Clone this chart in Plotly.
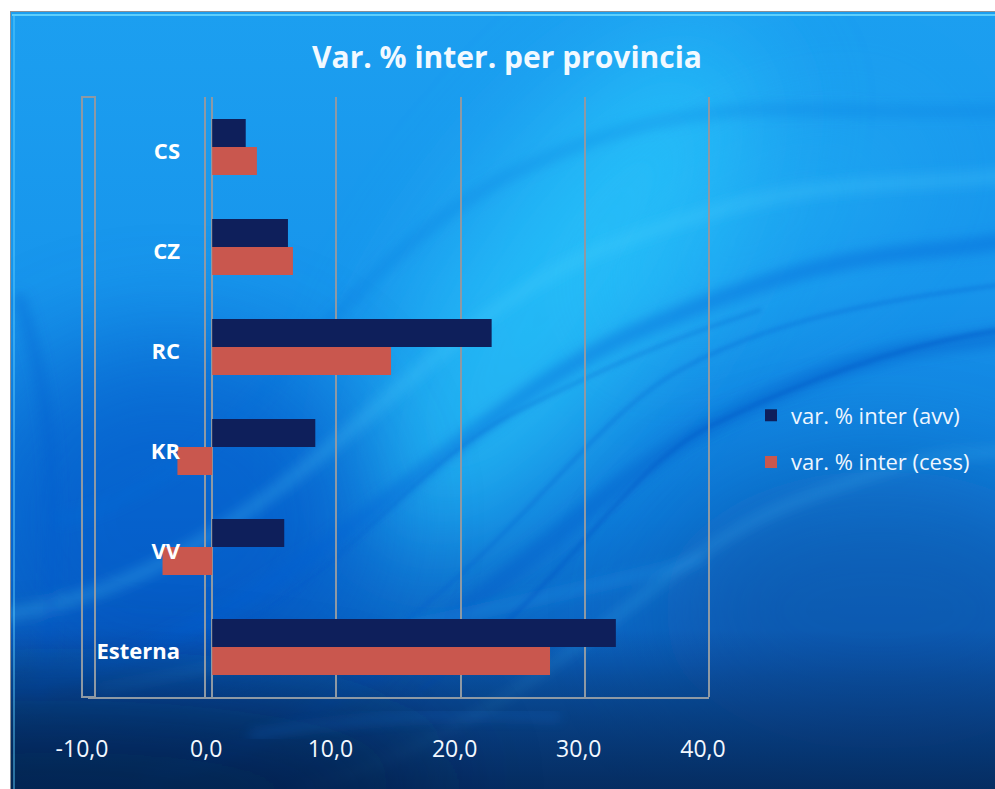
import base64
import plotly.graph_objects as go

# ---- data ----
categories = ["CS", "CZ", "RC", "KR", "VV", "Esterna"]
avv_values = [2.7, 6.1, 22.5, 8.3, 5.8, 32.5]
cess_values = [3.6, 6.5, 14.4, -2.8, -4.0, 27.2]
series_names = ["var. % inter (avv)", "var. % inter (cess)"]
tick_vals = [-10, 0, 10, 20, 30, 40]
tick_text = [f"{v:.1f}".replace(".", ",") for v in tick_vals]
title_text = "Var. % inter. per provincia"

# ---- layout geometry (pixels) ----
W, H = 995, 789
L, R, T, B = 88, 995 - 709, 97, 789 - 697
PW, PH = W - L - R, H - T - B

FONT = "'Open Sans', Lato, sans-serif"
GRID = "#8e99a4"

# ---- background picture (decoration only) ----
svg = f"""<svg xmlns='http://www.w3.org/2000/svg' width='985' height='778' viewBox='10 11 985 778' preserveAspectRatio='none'>
<defs>
<linearGradient id='g' x1='0' y1='0' x2='0' y2='1'>
<stop offset='0' stop-color='#1c9ff0'/>
<stop offset='0.35' stop-color='#1795ec'/>
<stop offset='0.65' stop-color='#0e7ad9'/>
<stop offset='0.84' stop-color='#0b60bd'/>
<stop offset='1' stop-color='#08427f'/>
</linearGradient>
<linearGradient id='gb' x1='0' y1='0' x2='0' y2='1'>
<stop offset='0' stop-color='#06336f' stop-opacity='0'/>
<stop offset='0.3' stop-color='#06336f' stop-opacity='0.35'/>
<stop offset='0.65' stop-color='#06306a' stop-opacity='0.65'/>
<stop offset='1' stop-color='#05295c' stop-opacity='0.85'/>
</linearGradient>
<filter id='b1' x='-80%' y='-80%' width='260%' height='260%'><feGaussianBlur stdDeviation='55'/></filter>
<filter id='b2' x='-20%' y='-20%' width='140%' height='140%'><feGaussianBlur stdDeviation='6'/></filter>
<filter id='b3' x='-20%' y='-20%' width='140%' height='140%'><feGaussianBlur stdDeviation='2'/></filter>
</defs>
<rect x='10' y='11' width='985' height='778' fill='url(#g)'/>
<ellipse cx='560' cy='290' rx='110' ry='300' transform='rotate(35 560 290)' fill='#2fd4ff' opacity='0.6' filter='url(#b1)'/>
<ellipse cx='760' cy='230' rx='80' ry='180' transform='rotate(60 760 230)' fill='#2cc8fb' opacity='0.25' filter='url(#b1)'/>
<ellipse cx='170' cy='520' rx='200' ry='180' fill='#0650c4' opacity='0.55' filter='url(#b1)'/>
<ellipse cx='880' cy='610' rx='220' ry='140' fill='#0a4d9e' opacity='0.5' filter='url(#b1)'/>
<g fill='none' stroke-linecap='round' filter='url(#b2)'>
<path d='M -40 700 C 280 660, 430 420, 640 330 S 900 260, 1010 240' stroke='#0a5fd4' stroke-width='16' opacity='0.4'/>
<path d='M -40 620 C 260 600, 400 330, 600 250 S 880 190, 1010 175' stroke='#52d4ff' stroke-width='14' opacity='0.22'/>
<path d='M 150 780 C 420 700, 560 500, 720 420 S 930 350, 1010 335' stroke='#0a58c8' stroke-width='18' opacity='0.4'/>
<path d='M 60 520 C 250 480, 330 260, 520 170 S 800 120, 1010 110' stroke='#0c6ad8' stroke-width='12' opacity='0.25'/>
<path d='M 300 790 C 550 720, 640 560, 800 500 S 950 460, 1010 450' stroke='#4fc6fa' stroke-width='10' opacity='0.2'/>
<path d='M 20 300 C 60 420, 60 560, 40 700' stroke='#0a5ccc' stroke-width='14' opacity='0.3'/>
<path d='M 100 690 C 300 650, 500 610, 700 560' stroke='#2aa6f5' stroke-width='8' opacity='0.3'/>
</g>
<g fill='none' stroke-linecap='round' filter='url(#b3)'>
<path d='M 420 690 C 560 600, 620 470, 712 425 S 900 345, 1000 330' stroke='#0b55c6' stroke-width='4' opacity='0.5'/>
<path d='M 380 640 C 520 540, 590 420, 680 370 S 880 300, 1000 285' stroke='#0b58cc' stroke-width='3' opacity='0.4'/>
<path d='M 200 640 C 330 600, 400 470, 520 410 S 700 330, 760 310' stroke='#0a5acb' stroke-width='3' opacity='0.35'/>
</g>
<rect x='10' y='630' width='985' height='159' fill='url(#gb)'/>
<ellipse cx='60' cy='790' rx='380' ry='90' fill='#041d45' opacity='0.55' filter='url(#b1)'/>
<path d='M 250 735 C 380 715, 480 712, 560 718' fill='none' stroke='#1b6fd0' stroke-width='6' opacity='0.35' filter='url(#b2)'/>
<line x1='12' y1='15' x2='995' y2='15' stroke='#6fdcff' stroke-width='2' opacity='0.8'/>
<line x1='14' y1='15' x2='14' y2='789' stroke='#5fd0ff' stroke-width='2' opacity='0.45'/>
<line x1='9' y1='11' x2='995' y2='11' stroke='#8c9096' stroke-width='2'/>
<line x1='10' y1='11' x2='10' y2='789' stroke='#8c9096' stroke-width='2'/>
</svg>"""
bg_uri = "data:image/svg+xml;base64," + base64.b64encode(svg.encode("utf-8")).decode("ascii")

fig = go.Figure()
fig.add_trace(go.Bar(
    y=categories, x=avv_values, orientation="h", name=series_names[0],
    marker=dict(color="#0e1f5b", line=dict(width=0)), legendgroup="a",
))
fig.add_trace(go.Bar(
    y=categories, x=cess_values, orientation="h", name=series_names[1],
    marker=dict(color="#c9574e", line=dict(width=0)), legendgroup="b",
))

fig.add_layout_image(dict(
    source=bg_uri, xref="paper", yref="paper",
    x=(10 - L) / PW, y=(H - B - 11) / PH,
    sizex=985 / PW, sizey=778 / PH,
    xanchor="left", yanchor="top", sizing="stretch", layer="below",
))

# 3-D wall edges of the chart frame (decoration)
fig.add_shape(type="rect", xref="x domain", yref="y domain",
              x0=(82 - L) / PW, x1=(95 - L) / PW, y0=0, y1=1,
              line=dict(color=GRID, width=2), fillcolor="rgba(0,0,0,0)", layer="below")
fig.add_shape(type="line", xref="x domain", yref="y domain",
              x0=1, x1=1, y0=0, y1=1, line=dict(color=GRID, width=2), layer="below")
fig.add_shape(type="line", xref="x domain", yref="y domain",
              x0=(205 - L) / PW, x1=(205 - L) / PW, y0=0, y1=1,
              line=dict(color=GRID, width=2), layer="below")

fig.update_layout(
    width=W, height=H,
    margin=dict(l=L, r=R, t=T, b=B),
    paper_bgcolor="white", plot_bgcolor="rgba(0,0,0,0)",
    barmode="group", bargap=0.44, bargroupgap=0,
    title=dict(text=f"<b>{title_text}</b>", x=507 / W, xref="container", xanchor="center",
               y=1 - 57 / H, yref="container", yanchor="middle",
               font=dict(family=FONT, size=30, color="#f2f9ff")),
    font=dict(family=FONT, color="white"),
    legend=dict(x=751 / W, xref="container", xanchor="left",
                y=1 - 439 / H, yref="container", yanchor="middle",
                traceorder="grouped", tracegroupgap=15,
                font=dict(family=FONT, size=22, color="#eef6ff"),
                bgcolor="rgba(0,0,0,0)", itemclick=False),
    showlegend=True,
)
fig.update_xaxes(
    range=[-10, 40], tickvals=tick_vals, ticktext=tick_text,
    showgrid=True, gridcolor=GRID, gridwidth=2,
    zeroline=False, showline=True, linecolor=GRID, linewidth=2,
    ticks="", ticklabelstandoff=30, ticklabelshift=-6,
    tickfont=dict(family=FONT, size=23, color="#f2f8ff"),
    fixedrange=True,
)
fig.update_yaxes(
    categoryorder="array", categoryarray=categories, autorange="reversed",
    showgrid=False, zeroline=False, showline=False, ticks="",
    ticklabelstandoff=-93, ticklabelshift=-4,
    tickfont=dict(family=FONT, size=22, color="white", weight="bold"),
    fixedrange=True,
)

fig.write_html("out.html")
